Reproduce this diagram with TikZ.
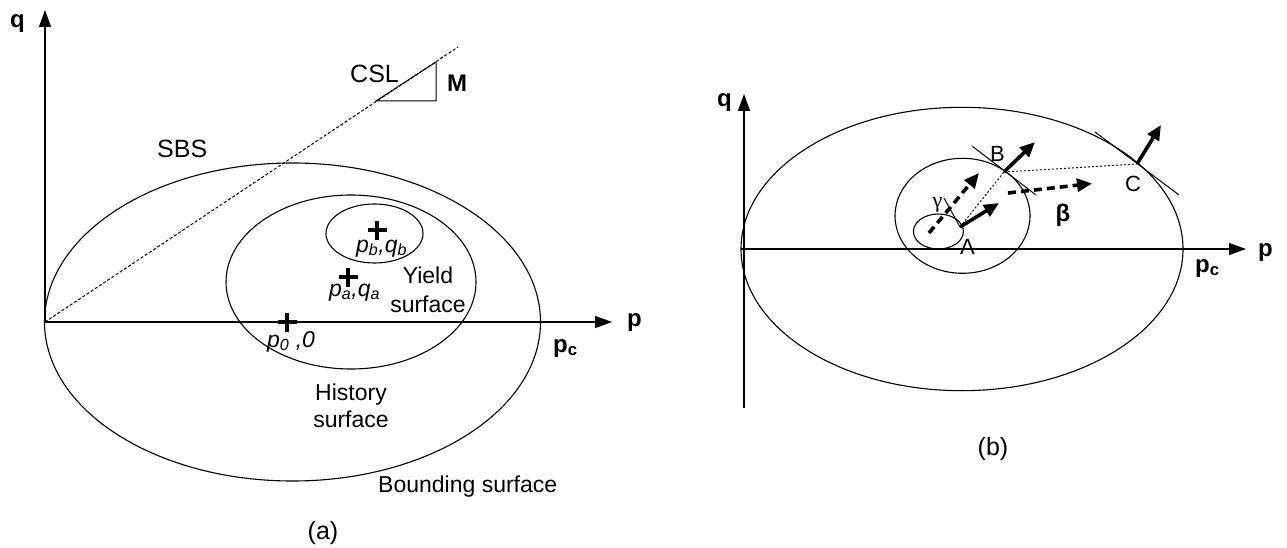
\documentclass[tikz,border=0pt]{standalone}
\usepackage{fontspec}
\setmainfont{Liberation Sans}
\newfontfamily\greekserif{Liberation Serif}
\usetikzlibrary{arrows.meta}
\begin{document}
\begin{tikzpicture}[x=1pt,y=-1pt,
  axis/.style={line width=1.4pt,-{Triangle[length=17pt,width=12pt]}},
  curve/.style={line width=1.1pt},
  csl/.style={line width=1pt,dash pattern=on 3pt off 2pt},
  dotline/.style={line width=0.9pt,dash pattern=on 2pt off 2pt},
  thinline/.style={line width=1pt},
  bigarrow/.style={line width=3.6pt,-{Triangle[length=15pt,width=13pt]}},
  dasharrow/.style={bigarrow,dash pattern=on 8pt off 5pt},
  plusmark/.style={line width=4pt},
  lbl/.style={inner sep=0pt,font=\fontsize{23}{27}\selectfont},
  biglbl/.style={inner sep=0pt,font=\fontsize{25}{29}\selectfont},
  boldlbl/.style={inner sep=0pt,font=\fontsize{24}{28}\selectfont\bfseries},
  itlbl/.style={inner sep=0pt,font=\fontsize{23}{27}\selectfont\itshape},
  ptlbl/.style={inner sep=0pt,font=\fontsize{22}{26}\selectfont}
]
\useasboundingbox (0,0) rectangle (1287,548);

% ---------------- Panel (a) ----------------
\coordinate (O) at (45,322);
\coordinate (qtip) at (45,10);
\coordinate (ptip) at (612,322);
\draw[axis] (O) -- (qtip);
\draw[axis] (O) -- (ptip);
\coordinate (cslend) at (458,47);
\draw[csl] (O) -- (cslend);
\coordinate (t1) at (376,101);
\coordinate (t2) at (436,62);
\coordinate (t3) at (436,101);
\draw[thinline] (t1) -- (t2) -- (t3) -- cycle;

\draw[curve] (292.5,322) ellipse [x radius=248pt, y radius=159pt];
\draw[curve] (351,282) ellipse [x radius=125pt, y radius=87pt];
\draw[curve] (374.5,233.5) ellipse [x radius=48.5pt, y radius=29.5pt];

\coordinate (pb) at (377,230);
\coordinate (pa) at (348,277);
\coordinate (p0) at (287,322);
\foreach \c in {pb,pa,p0}{
  \draw[plusmark] (\c) ++(-9.5,0) -- ++(19,0);
  \draw[plusmark] (\c) ++(0,-9.5) -- ++(0,19);
}

\node[boldlbl,anchor=base west] (lq) at (10,28) {q};
\node[boldlbl,anchor=base west] (lp) at (627,326) {p};
\node[biglbl,anchor=base west] (lcsl) at (350,83) {CSL};
\node[boldlbl,anchor=base west] (lM) at (447,92) {M};
\node[biglbl,anchor=base west] (lsbs) at (157,158) {SBS};
\node[itlbl,anchor=base west] (lpb) at (356,252) {p\textsubscript{b},q\textsubscript{b}};
\node[itlbl,anchor=base west] (lpa) at (329,296) {p\textsubscript{a},q\textsubscript{a}};
\node[lbl,anchor=base] (lyield1) at (428,283) {Yield};
\node[lbl,anchor=base] (lyield2) at (428,312) {surface};
\node[itlbl,anchor=base west] (lp0) at (267,347) {p\textsubscript{0} ,0};
\node[boldlbl,anchor=base west] (lpc) at (553,352) {p\textsubscript{c}};
\node[lbl,anchor=base] (lhist1) at (351,400) {History};
\node[lbl,anchor=base] (lhist2) at (351,427) {surface};
\node[lbl,anchor=base west] (lbound) at (378,492) {Bounding surface};
\node[biglbl] (la) at (323,533) {(a)};

% ---------------- Panel (b) ----------------
\coordinate (qb) at (744,408);
\coordinate (qt) at (744,94);
\coordinate (pl) at (741,249);
\coordinate (pr) at (1246,249);
\draw[axis] (qb) -- (qt);
\draw[axis] (pl) -- (pr);

\draw[curve] (962,249) ellipse [x radius=221pt, y radius=141.7pt];
\draw[curve] (962.5,215.8) ellipse [x radius=67.5pt, y radius=57.5pt];
\draw[curve] (938.4,231.5) ellipse [x radius=25pt, y radius=17.5pt];

\coordinate (A) at (960,227);
\coordinate (B) at (1004,172);
\coordinate (C) at (1137,164);
\coordinate (gam) at (944,198);
\coordinate (tB1) at (972,146);
\coordinate (tB2) at (1036,195);
\coordinate (tC1) at (1095,132);
\coordinate (tC2) at (1179,195);
\draw[thinline] (gam) -- (A);
\draw[thinline] (tB1) -- (tB2);
\draw[thinline] (tC1) -- (tC2);
\draw[dotline] (A) -- (B);
\draw[dotline] (B) -- (C);

\coordinate (Atip) at (999,203);
\coordinate (Btip) at (1035,142);
\coordinate (Ctip) at (1161,125);
\draw[bigarrow] (A) -- (Atip);
\draw[bigarrow] (B) -- (Btip);
\draw[bigarrow] (C) -- (Ctip);

\coordinate (g0) at (929,233);
\coordinate (g1) at (979,173);
\coordinate (b0) at (1008,193);
\coordinate (b1) at (1092,183.5);
\draw[dasharrow] (g0) -- (g1);
\draw[dasharrow] (b0) -- (b1);

\node[boldlbl,anchor=base west] (rq) at (717,107) {q};
\node[boldlbl,anchor=base west] (rp) at (1258,256) {p};
\node[boldlbl,anchor=base west] (rpc) at (1195,272) {p\textsubscript{c}};
\node[ptlbl,anchor=base west] (rA) at (960,254) {A};
\node[ptlbl,anchor=base west] (rB) at (990,162) {B};
\node[ptlbl,anchor=base west] (rC) at (1125,192) {C};
\node[inner sep=0pt,font=\fontsize{22}{26}\selectfont\greekserif] (rgam) at (937.5,205) {γ};
\node[boldlbl] (rbeta) at (1063,215) {β};
\node[biglbl] (lb) at (993,449) {(b)};
\end{tikzpicture}
\end{document}
